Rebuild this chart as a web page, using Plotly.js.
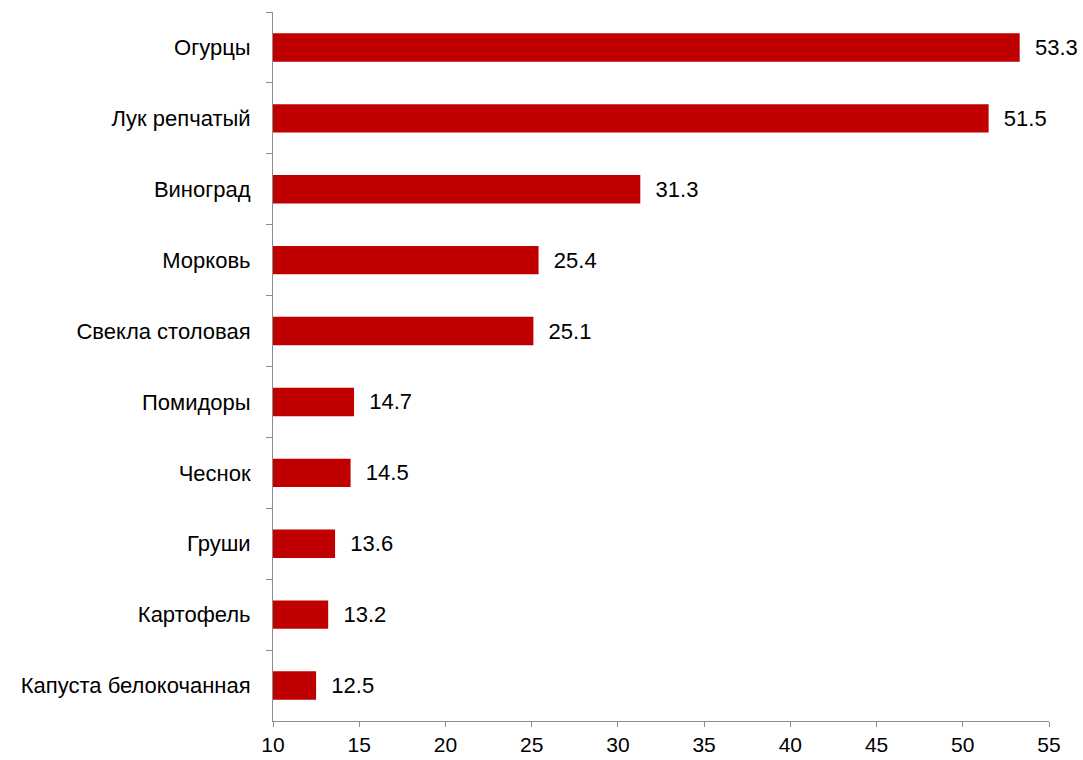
<!DOCTYPE html>
<html>
<head>
<meta charset="utf-8">
<script src="https://cdn.plot.ly/plotly-3.0.1.min.js"></script>
<style>html,body{margin:0;padding:0;background:#fff;}</style>
</head>
<body>
<div id="chart" style="width:1083px;height:760px;"></div>
<script>
const categories = ["Огурцы","Лук репчатый","Виноград","Морковь","Свекла столовая","Помидоры","Чеснок","Груши","Картофель","Капуста белокочанная"];
const values = [53.3, 51.5, 31.3, 25.4, 25.1, 14.7, 14.5, 13.6, 13.2, 12.5];
const tickVals = [10,15,20,25,30,35,40,45,50,55];

const trace = {
  type: 'bar',
  orientation: 'h',
  y: categories,
  x: values,
  base: 0,
  marker: {color: '#C00000'},
  text: values.map(v => '\u00a0\u00a0' + v.toFixed(1)),
  textposition: 'outside',
  cliponaxis: false,
  textfont: {family: 'Liberation Sans, Arial, sans-serif', size: 22, color: '#000'},
  hoverinfo: 'none'
};

const layout = {
  width: 1083, height: 760,
  margin: {l: 273, r: 34, t: 12, b: 39},
  paper_bgcolor: '#fff', plot_bgcolor: '#fff',
  showlegend: false,
  bargap: 0.6,
  font: {family: 'Liberation Sans, Arial, sans-serif', size: 22, color: '#000'},
  xaxis: {
    range: [10, 55], tickvals: tickVals, ticktext: tickVals.map(String),
    showgrid: false, zeroline: false,
    showline: true, linecolor: '#8c8c8c', linewidth: 1,
    ticks: 'outside', ticklen: 5, tickcolor: '#8c8c8c',
    ticklabelstandoff: 0,
    tickfont: {size: 21}
  },
  yaxis: {
    autorange: 'reversed', type: 'category',
    showgrid: false, zeroline: false,
    showline: true, linecolor: '#8c8c8c', linewidth: 1,
    ticks: 'outside', tickson: 'boundaries', ticklen: 6, tickcolor: '#8c8c8c',
    ticklabelstandoff: 17,
    tickfont: {size: 22}
  }
};

Plotly.newPlot('chart', [trace], layout, {displayModeBar: false, staticPlot: true});
</script>
</body>
</html>
